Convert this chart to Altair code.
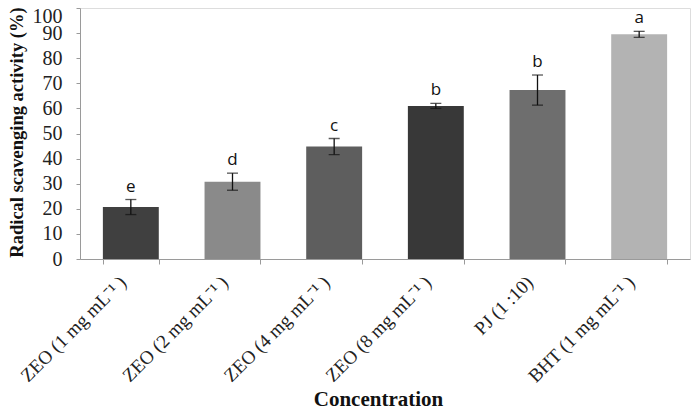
import altair as alt
import pandas as pd

categories = ["ZEO (1 mg mL⁻¹ )", "ZEO (2 mg mL⁻¹ )", "ZEO (4 mg mL⁻¹ )",
              "ZEO (8 mg mL⁻¹ )", "PJ (1 :10)", "BHT (1 mg mL⁻¹ )"]
values = [20.7, 30.8, 44.8, 61.0, 67.3, 89.5]
errors = [3.0, 3.4, 3.2, 1.0, 6.0, 1.2]
letters = ["e", "d", "c", "b", "b", "a"]
colors = ["#404040", "#8a8a8a", "#5e5e5e", "#383838", "#6e6e6e", "#b3b3b3"]
y_ticks = list(range(0, 101, 10))

df = pd.DataFrame({
    "cat": categories,
    "val": values,
    "err": errors,
    "letter": letters,
    "color": colors,
})
df["lo"] = df["val"] - df["err"]
df["hi"] = df["val"] + df["err"]

serif = "Liberation Serif"
y_title = "Radical scavenging activity (%)"

x_axis = alt.Axis(labelAngle=-45, labelFont=serif, labelFontSize=19,
                  labelColor="#222222", labelAlign="right",
                  labelBaseline="middle", labelPadding=15,
                  labelOffset=-8,
                  tickBand="extent", tickSize=5, tickColor="#9a9a9a",
                  domainColor="#9a9a9a", titleFont=serif,
                  titleFontSize=21, titleFontWeight="bold",
                  titleColor="#111111", titleY=146, titleX=298,
                  titleAlign="center", titleBaseline="alphabetic")
x_scale = alt.Scale(paddingInner=0.45, paddingOuter=0.225)

y_axis = alt.Axis(values=y_ticks, tickCount=11, grid=False, labelOverlap=False,
                  labelFont=serif, labelFontSize=20,
                  labelColor="#222222", labelPadding=14,
                  labelBaseline={"expr": "datum.value == 100 ? 'top' : 'middle'"},
                  labelOffset={"expr": "datum.value == 100 ? -2 : 0"},
                  tickSize=4, tickColor="#9a9a9a",
                  domainColor="#9a9a9a", titleFont=serif,
                  titleFontSize=18.5, titleFontWeight="bold",
                  titleColor="#111111", titleX=-64, titleY=124,
                  titleAngle=270, titleAlign="center",
                  titleBaseline="middle")
y_scale = alt.Scale(domain=[0, 100])


def xe():
    return alt.X("cat:N", sort=categories, title="Concentration",
                 scale=x_scale, axis=x_axis)


def ye(field):
    return alt.Y(field, title=y_title, scale=y_scale, axis=y_axis)


base = alt.Chart(df)

bars = base.mark_bar().encode(
    x=xe(), y=ye("val:Q"),
    color=alt.Color("color:N", scale=None),
)
rules = base.mark_rule(color="#111111", strokeWidth=1.3).encode(
    x=xe(), y=ye("lo:Q"), y2="hi:Q")
caps_hi = base.mark_tick(color="#111111", thickness=1.3, size=11,
                         orient="horizontal").encode(x=xe(), y=ye("hi:Q"))
caps_lo = base.mark_tick(color="#111111", thickness=1.3, size=11,
                         orient="horizontal").encode(x=xe(), y=ye("lo:Q"))
text = base.mark_text(font="Open Sans", fontSize=17, color="#111111",
                      baseline="bottom", dy=-4).encode(
    x=xe(), y=ye("hi:Q"), text="letter:N")

chart = alt.layer(bars, rules, caps_hi, caps_lo, text).properties(
    width=610, height=251,
    autosize=alt.AutoSizeParams(type="none"),
    padding={"left": 72, "top": 0, "right": 1, "bottom": 150},
).configure_view(stroke=None).configure(background="white")

chart.save("out.html", embed_options={"renderer": "svg", "actions": False})
